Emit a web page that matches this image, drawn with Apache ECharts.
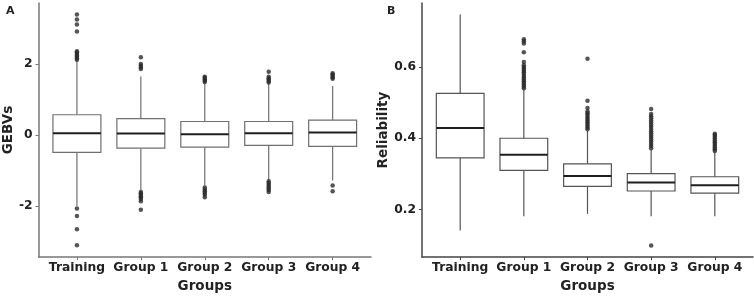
<!DOCTYPE html>
<html>
<head>
<meta charset="utf-8">
<script src="https://cdn.jsdelivr.net/npm/echarts@6/dist/echarts.min.js"></script>
<style>
  html, body { margin: 0; padding: 0; background: #fff; }
  #chart { width: 754px; height: 298px; }
</style>
</head>
<body>
<div id="chart"></div>
<script>
// groups on the x axis (both panels)
const groups = ['Training', 'Group 1', 'Group 2', 'Group 3', 'Group 4'];

// panel A - GEBVs: whisker low, Q1, median, Q3, whisker high
const gebvLow = [-2.0, -1.55, -1.42, -1.27, -1.28];
const gebvQ1 = [-0.49, -0.37, -0.34, -0.29, -0.32];
const gebvMedian = [0.05, 0.04, 0.02, 0.05, 0.07];
const gebvQ3 = [0.57, 0.46, 0.38, 0.38, 0.42];
const gebvHigh = [2.1, 1.65, 1.45, 1.45, 1.38];
const gebvOutliers = [
  [2.12, 2.16, 2.2, 2.24, 2.28, 2.32, 2.36, 2.91, 3.11, 3.25, 3.39, -2.07, -2.28, -2.65, -3.1],
  [1.86, 1.9, 1.95, 2.0, 2.19, -1.6, -1.64, -1.68, -1.72, -1.76, -1.8, -1.86, -2.1],
  [1.49, 1.53, 1.57, 1.61, 1.64, -1.48, -1.53, -1.58, -1.63, -1.68, -1.75],
  [1.48, 1.52, 1.56, 1.6, 1.64, 1.78, -1.3, -1.35, -1.4, -1.45, -1.5, -1.55, -1.6],
  [1.58, 1.62, 1.66, 1.7, 1.74, -1.42, -1.58],
];
const gebvTicks = [-2, 0, 2];

// panel B - Reliability
const relLow = [0.141, 0.181, 0.188, 0.181, 0.181];
const relQ1 = [0.345, 0.31, 0.265, 0.252, 0.246];
const relMedian = [0.429, 0.354, 0.294, 0.276, 0.268];
const relQ3 = [0.526, 0.4, 0.328, 0.301, 0.292];
const relHigh = [0.747, 0.536, 0.42, 0.368, 0.36];
const relOutliers = [
  [],
  [0.54, 0.545, 0.55, 0.555, 0.56, 0.565, 0.57, 0.575, 0.58, 0.585, 0.59, 0.595, 0.6, 0.605, 0.614, 0.641, 0.666, 0.672, 0.678],
  [0.425, 0.43, 0.435, 0.44, 0.445, 0.45, 0.455, 0.46, 0.465, 0.47, 0.475, 0.485, 0.505, 0.623],
  [0.372, 0.378, 0.384, 0.39, 0.396, 0.402, 0.408, 0.414, 0.42, 0.426, 0.432, 0.438, 0.444, 0.45, 0.456, 0.462, 0.468, 0.482, 0.099],
  [0.364, 0.369, 0.374, 0.379, 0.384, 0.389, 0.394, 0.399, 0.404, 0.409, 0.413],
];
const relTicks = [0.2, 0.4, 0.6];

const FONT = 'DejaVu Sans';
const TEXT = '#222';

function boxRows(low, q1, med, q3, high) {
  return groups.map((g, i) => [i + 1, low[i], q1[i], med[i], q3[i], high[i]]);
}

function outlierRows(list) {
  const rows = [];
  list.forEach((vals, i) => vals.forEach(v => rows.push([i + 1, v])));
  return rows;
}

// ggplot-like box: whiskers without caps, thick median
function boxRenderer(stroke) {
  return function (params, api) {
    const x = api.value(0);
    const lo = api.coord([x, api.value(1)]);
    const q1 = api.coord([x, api.value(2)]);
    const md = api.coord([x, api.value(3)]);
    const q3 = api.coord([x, api.value(4)]);
    const hi = api.coord([x, api.value(5)]);
    const half = api.size([0.75, 0])[0] / 2;
    return {
      type: 'group',
      children: [
        { type: 'line', shape: { x1: hi[0], y1: hi[1], x2: q3[0], y2: q3[1] }, style: { stroke: stroke, lineWidth: 1.2 } },
        { type: 'line', shape: { x1: q1[0], y1: q1[1], x2: lo[0], y2: lo[1] }, style: { stroke: stroke, lineWidth: 1.2 } },
        { type: 'rect', shape: { x: q3[0] - half, y: q3[1], width: half * 2, height: q1[1] - q3[1] }, style: { fill: '#fff', stroke: stroke, lineWidth: 1.2 } },
        { type: 'line', shape: { x1: md[0] - half, y1: md[1], x2: md[0] + half, y2: md[1] }, style: { stroke: '#1e1e1e', lineWidth: 2 } },
      ],
    };
  };
}

function xAxisFor(gridIndex, lineColor) {
  return {
    type: 'value',
    gridIndex: gridIndex,
    min: 0.4,
    max: 5.6,
    name: 'Groups',
    nameLocation: 'middle',
    nameGap: 19,
    nameTextStyle: { fontFamily: FONT, fontWeight: 'bold', fontSize: 13.5, color: TEXT },
    splitLine: { show: false },
    axisLine: { onZero: false, lineStyle: { color: lineColor, width: 1.5 } },
    axisTick: { length: 3, lineStyle: { color: lineColor }, customValues: [1, 2, 3, 4, 5] },
    axisLabel: {
      customValues: [1, 2, 3, 4, 5],
      formatter: v => groups[v - 1],
      margin: 5,
      fontFamily: FONT,
      fontWeight: 'bold',
      fontSize: 12.3,
      color: TEXT,
    },
  };
}

function yAxisFor(gridIndex, name, min, max, ticks, gap, lineColor) {
  return {
    type: 'value',
    gridIndex: gridIndex,
    min: min,
    max: max,
    name: name,
    nameLocation: 'middle',
    nameGap: gap,
    nameTextStyle: { fontFamily: FONT, fontWeight: 'bold', fontSize: 13.5, color: TEXT },
    splitLine: { show: false },
    axisLine: { show: true, onZero: false, lineStyle: { color: lineColor, width: 1.5 } },
    axisTick: { show: true, length: 3, lineStyle: { color: lineColor }, customValues: ticks },
    axisLabel: {
      customValues: ticks,
      margin: 6,
      fontFamily: FONT,
      fontWeight: 'bold',
      fontSize: 12.3,
      color: TEXT,
    },
  };
}

const myChart = echarts.init(document.getElementById('chart'));

const option = {
  animation: false,
  backgroundColor: '#fff',
  title: [
    { text: 'A', left: 1, top: 1, textStyle: { fontFamily: FONT, fontWeight: 'bold', fontSize: 11, color: TEXT } },
    { text: 'B', left: 382, top: 1, textStyle: { fontFamily: FONT, fontWeight: 'bold', fontSize: 11, color: TEXT } },
  ],
  grid: [
    { left: 34, top: 3, width: 337, height: 263 },
    { left: 422, top: 3, width: 331, height: 263 },
  ],
  xAxis: [xAxisFor(0, '#777'), xAxisFor(1, '#444')],
  yAxis: [
    yAxisFor(0, 'GEBVs', -3.435, 3.715, gebvTicks, 20, '#777'),
    yAxisFor(1, 'Reliability', 0.0666, 0.7795, relTicks, 29, '#444'),
  ],
  series: [
    {
      type: 'custom',
      xAxisIndex: 0,
      yAxisIndex: 0,
      renderItem: boxRenderer('#707070'),
      encode: { x: 0, y: [1, 2, 3, 4, 5] },
      data: boxRows(gebvLow, gebvQ1, gebvMedian, gebvQ3, gebvHigh),
    },
    {
      type: 'scatter',
      xAxisIndex: 0,
      yAxisIndex: 0,
      symbolSize: 4.5,
      itemStyle: { color: '#2b2b2b' },
      data: outlierRows(gebvOutliers),
    },
    {
      type: 'custom',
      xAxisIndex: 1,
      yAxisIndex: 1,
      renderItem: boxRenderer('#555'),
      encode: { x: 0, y: [1, 2, 3, 4, 5] },
      data: boxRows(relLow, relQ1, relMedian, relQ3, relHigh),
    },
    {
      type: 'scatter',
      xAxisIndex: 1,
      yAxisIndex: 1,
      symbolSize: 4.5,
      itemStyle: { color: '#2b2b2b' },
      data: outlierRows(relOutliers),
    },
  ],
};
myChart.setOption(option);
</script>
</body>
</html>
